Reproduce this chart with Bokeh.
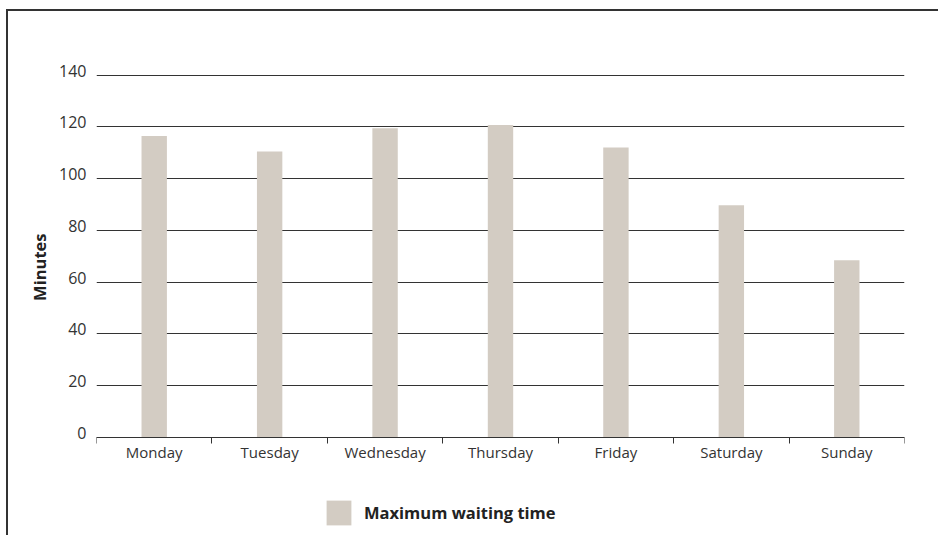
from bokeh.plotting import figure
from bokeh.models import Range1d, FixedTicker, Legend, LegendItem, ColumnDataSource, Title, LinearAxis
from bokeh.embed import file_html
from bokeh.resources import INLINE

days = ["Monday", "Tuesday", "Wednesday", "Thursday", "Friday", "Saturday", "Sunday"]
max_wait = [116.5, 110.5, 119.5, 120.7, 112.0, 89.7, 68.5]
y_ticks = [0, 20, 40, 60, 80, 100, 120, 140]

centers = [i + 0.5 for i in range(len(days))]
bounds = [i for i in range(len(days) + 1)]

FONT = "Open Sans"
TXT = "#333333"
BAR = "#d3ccc3"

Y0, Y1 = -38.63, 142.93       # lower part of frame holds day labels and legend
LIFT = 1.74                   # tick labels sit slightly above their grid lines

p = figure(width=932, height=526, output_backend="svg", toolbar_location=None,
           x_range=Range1d(0, len(days)), y_range=Range1d(Y0, Y1),
           min_border_left=88, min_border_right=36, min_border_top=56, min_border_bottom=0,
           styles={"margin-left": "6px", "margin-top": "9px",
                   "border-top": "2px solid #333333", "border-left": "2px solid #333333"})
p.outline_line_color = None
p.background_fill_color = "white"
p.border_fill_color = "white"
p.extra_y_ranges = {"lbl": Range1d(Y0 - LIFT, Y1 - LIFT)}

src = ColumnDataSource(dict(x=centers, top=max_wait, day=days))
bars = p.vbar(x="x", top="top", bottom=0, width=0.22, source=src,
              fill_color=BAR, line_color=None)

# grid
p.xgrid.visible = False
p.ygrid.ticker = FixedTicker(ticks=y_ticks)
p.ygrid.grid_line_color = "#333333"
p.ygrid.grid_line_width = 1
p.ygrid.level = "underlay"

# y axis (labels only)
p.yaxis.visible = False
yax = LinearAxis(y_range_name="lbl", ticker=FixedTicker(ticks=y_ticks),
                 axis_line_color=None, major_tick_line_color=None, major_tick_out=0,
                 minor_tick_line_color=None,
                 major_label_text_font=FONT, major_label_text_font_size="16px",
                 major_label_text_color=TXT, major_label_standoff=10)
p.add_layout(yax, "left")

p.add_layout(Title(text="Minutes", align="right", offset=161 + 5,
                   text_font=FONT, text_font_size="16.5px", text_font_style="bold",
                   text_color="#222222", standoff=12), "left")

# x axis at y = 0: labels at centers, ticks at category boundaries
p.xaxis.fixed_location = 0
p.xaxis.ticker = FixedTicker(ticks=centers, minor_ticks=bounds)
p.xaxis.major_label_overrides = {c: d for c, d in zip(centers, days)}
p.xaxis.axis_line_color = "#333333"
p.xaxis.axis_line_width = 1
p.xaxis.major_tick_line_color = None
p.xaxis.major_tick_out = 0
p.xaxis.minor_tick_line_color = "#333333"
p.xaxis.minor_tick_in = 0
p.xaxis.minor_tick_out = 6
p.xaxis.major_label_text_font = FONT
p.xaxis.major_label_text_font_size = "15px"
p.xaxis.major_label_text_color = TXT
p.xaxis.major_label_standoff = -1

legend = Legend(items=[LegendItem(label="Maximum waiting time", renderers=[bars])],
                location=(227, 9), orientation="horizontal",
                glyph_width=31, glyph_height=31, label_standoff=10,
                label_text_font=FONT, label_text_font_size="16.5px",
                label_text_font_style="bold", label_text_color="#222222",
                border_line_color=None, background_fill_alpha=0,
                padding=0, margin=0, spacing=0)
p.add_layout(legend, "center")

open("out.html", "w").write(file_html(p, INLINE))
